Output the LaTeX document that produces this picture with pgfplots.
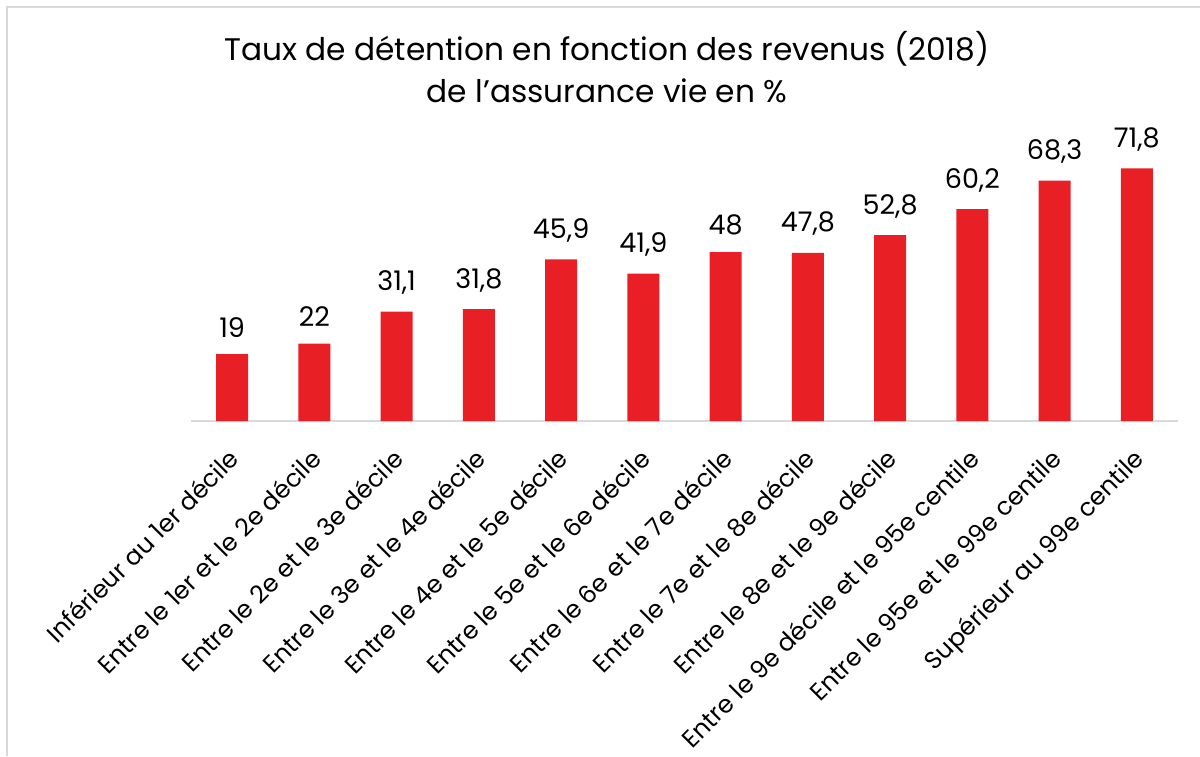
\documentclass[border=0pt]{standalone}
\usepackage{pgfplots}
\pgfplotsset{compat=1.18}
\usepackage{fontspec}
\setmainfont{Poppins}
\definecolor{barred}{HTML}{E81F25}
\definecolor{grayline}{HTML}{D9D9D9}
\begin{document}
\begin{tikzpicture}
\path[use as bounding box, fill=white] (0pt,0pt) rectangle (600pt,378pt);
\draw[grayline, line width=1pt] (3.5pt,0pt) -- (3.5pt,374.5pt) -- (600pt,374.5pt);
\node[align=center, font=\fontsize{15.6}{21}\selectfont, anchor=center] at (303.5pt,344.5pt)
  {Taux de détention en fonction des revenus (2018)\\de l'assurance vie en \%};
\begin{axis}[
  at={(95.5pt,167.5pt)}, anchor=south west,
  scale only axis, width=493.5pt, height=140.8pt,
  xmin=-0.5, xmax=11.5, ymin=0, ymax=80,
  axis x line=bottom, axis y line=none,
  axis line style={draw=grayline, line width=1pt, -},
  xtick={0,...,11}, xtick style={draw=none},
  xticklabels={Inférieur au 1er décile, Entre le 1er et le 2e décile, Entre le 2e et le 3e décile, Entre le 3e et le 4e décile, Entre le 4e et le 5e décile, Entre le 5e et le 6e décile, Entre le 6e et le 7e décile, Entre le 7e et le 8e décile, Entre le 8e et le 9e décile, Entre le 9e décile et le 95e centile, Entre le 95e et le 99e centile, Supérieur au 99e centile},
  xticklabel style={xshift=-2.5pt, yshift=-6pt, rotate=45, anchor=north east, font=\fontsize{12.3}{14}\selectfont},
  /pgf/number format/assume math mode=true,
  /pgf/number format/use comma,
  nodes near coords,
  nodes near coords style={font=\fontsize{13.5}{15}\selectfont, black, yshift=5pt},
  clip=false,
]
\addplot[ybar, bar width=16pt, fill=barred, draw=none] coordinates {
(0,19) (1,22) (2,31.1) (3,31.8) (4,45.9) (5,41.9) (6,48) (7,47.8) (8,52.8) (9,60.2) (10,68.3) (11,71.8)};
\end{axis}
\end{tikzpicture}
\end{document}
